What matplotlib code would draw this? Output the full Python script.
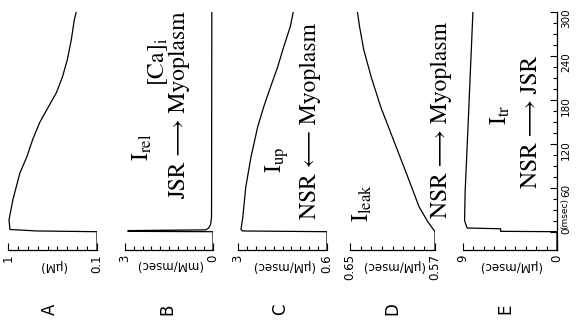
import numpy as np
import matplotlib
matplotlib.use("Agg")
import matplotlib.pyplot as plt

plt.rcParams['mathtext.fontset'] = 'stix'

# time (msec) and values for each panel
t_ca = [-25, 0, 1, 3, 16, 44, 80, 102, 126, 149, 166, 190, 211, 235, 262, 289, 300]
ca = [0.1, 0.1, 0.71, 0.98, 0.99, 0.95, 0.88, 0.81, 0.75, 0.68, 0.61, 0.51, 0.45, 0.40, 0.36, 0.33, 0.31]

t_rel = [-25, 0, 0.5, 1.5, 2.5, 5, 10, 20, 300]
rel = [0, 0, 2.9, 2.9, 0.25, 0.15, 0.08, 0.05, 0.04]

t_up = [-25, 0, 1, 3, 20, 61, 102, 143, 170, 198, 225, 252, 280, 300]
up = [0.6, 0.6, 2.88, 2.92, 2.87, 2.79, 2.65, 2.47, 2.31, 2.12, 1.93, 1.77, 1.59, 1.51]

t_leak = [-25, 0, 14, 34, 80, 125, 170, 211, 248, 280, 300]
leak = [0.57, 0.57, 0.577, 0.585, 0.597, 0.609, 0.621, 0.630, 0.637, 0.641, 0.643]

t_tr = [-25, 0, 0.5, 4, 5, 15, 53, 150, 300]
tr = [0, 0, 5.4, 5.4, 8.6, 8.85, 8.8, 8.5, 8.05]

time_ticks = [0, 60, 120, 180, 240, 300]

# panel: letter, times, values, (high, low), end labels, unit, minor intervals
panels = [
    ("A", t_ca, ca, (1, 0.1), ("1", "0.1"), "(\u03bcM)", 9),
    ("B", t_rel, rel, (3, 0), ("3", "0"), "(mM/msec)", 10),
    ("C", t_up, up, (3, 0.6), ("3", "0.6"), "(\u03bcM/msec)", 10),
    ("D", t_leak, leak, (0.65, 0.57), ("0.65", "0.57"), "(\u03bcM/msec)", 8),
    ("E", t_tr, tr, (9, 0), ("9", "0"), "(\u03bcM/msec)", 9),
]
lefts = [8, 125, 238, 350, 463]
rights = [97, 213, 327, 435, 557]

W, H = 578, 328
fig = plt.figure(figsize=(W / 100, H / 100), dpi=100)
fig.patch.set_facecolor("white")

def fx(px):
    return px / W

def fy(py):
    return 1 - py / H

top_px, bot_px = 12, 250
axes = []
for (letter, t, v, (hi, lo), labs, unit, n), l, r in zip(panels, lefts, rights):
    ax = fig.add_axes([fx(l), fy(bot_px), (r - l) / W, (bot_px - top_px) / H])
    ax.plot(v, t, color="black", lw=0.9)
    ax.set_xlim(hi, lo)
    ax.set_ylim(-25, 300)
    for s in ["top", "left", "right"]:
        ax.spines[s].set_visible(False)
    ax.spines["bottom"].set_linewidth(0.9)
    ax.set_xticks([hi, lo])
    ax.set_xticklabels(labs)
    ax.set_xticks(np.linspace(lo, hi, n + 1), minor=True)
    ax.tick_params(axis="x", which="both", direction="in", labelrotation=90,
                   labelsize=8.5, pad=3, width=0.8)
    ax.tick_params(axis="x", which="major", length=5)
    ax.tick_params(axis="x", which="minor", length=3)
    # unit label runs along the axis, upside down
    ax.text(0.5, -0.065, unit, transform=ax.transAxes, rotation=180,
            ha="center", va="center", fontsize=8.5)
    fig.text(fx(l + 42), fy(309), letter, rotation=90, ha="center",
             va="center", fontsize=12)
    ax.yaxis.set_visible(False)
    axes.append(ax)

# time axis on the last panel
ax = axes[-1]
ax.yaxis.set_visible(True)
ax.spines["right"].set_visible(True)
ax.spines["right"].set_linewidth(0.9)
ax.yaxis.tick_right()
ax.set_yticks(time_ticks)
ax.set_yticklabels([str(x) for x in time_ticks])
ax.set_yticks(np.arange(0, 301, 15), minor=True)
ax.tick_params(axis="y", which="both", direction="in", labelrotation=90,
               labelsize=7.5, pad=3, width=0.8)
ax.tick_params(axis="y", which="major", length=5)
ax.tick_params(axis="y", which="minor", length=3)
ax.text(1.03, 4, "(msec)", transform=ax.get_yaxis_transform(), rotation=90,
        ha="left", va="bottom", fontsize=6.5)

# panel titles
serif = ["STIXGeneral", "DejaVu Serif", "DejaVu Sans"]
titles = [
    ("[Ca]$_\\mathrm{i}$", 158, 62),
    ("$\\mathrm{I_{rel}}$", 142, 147),
    ("JSR \u27f6 Myoplasm", 179, 105),
    ("$\\mathrm{I_{up}}$", 277, 160),
    ("NSR \u27f5 Myoplasm", 310, 121),
    ("$\\mathrm{I_{leak}}$", 362, 203),
    ("NSR \u27f6 Myoplasm", 441, 120),
    ("$\\mathrm{I_{tr}}$", 500, 115),
    ("NSR \u27f6 JSR", 531, 122),
]
for txt, x, y in titles:
    fig.text(fx(x), fy(y), txt, rotation=90, ha="center", va="center",
             fontsize=17, family=serif)

fig.savefig("out.png", dpi=100)
